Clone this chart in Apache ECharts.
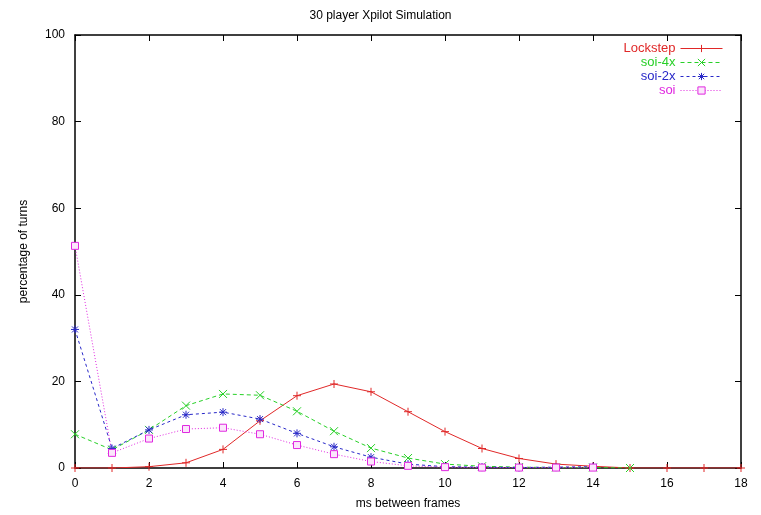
<!DOCTYPE html>
<html>
<head>
<meta charset="utf-8">
<script src="https://cdn.jsdelivr.net/npm/echarts@6/dist/echarts.min.js"></script>
<style>
  html, body { margin: 0; padding: 0; background: #fff; }
  #main { width: 761px; height: 515px; }
</style>
</head>
<body>
<div id="main"></div>
<script>
// ms between frames (x) and percentage of turns per series
var msValues = [0, 1, 2, 3, 4, 5, 6, 7, 8, 9, 10, 11, 12, 13, 14, 15, 16, 17, 18];
var lockstep = [0, 0, 0.3, 1.2, 4.3, 10.9, 16.7, 19.4, 17.6, 13.0, 8.4, 4.5, 2.2, 0.9, 0.4, 0, 0, 0, 0];
var soi4x = [7.8, 4.2, 8.8, 14.4, 17.1, 16.8, 13.1, 8.5, 4.6, 2.3, 0.9, 0.4, 0.2, 0.1, 0.1, 0];
var soi2x = [32.0, 4.5, 8.8, 12.3, 12.9, 11.3, 8.0, 4.9, 2.5, 0.9, 0.3, 0.2, 0.1, 0.2, 0.3];
var soi = [51.3, 3.5, 6.8, 9.0, 9.3, 7.8, 5.3, 3.2, 1.5, 0.5, 0.2, 0.1, 0.1, 0.1, 0.1];

var FONT = 'Liberation Sans';

function pairs(vals) {
    var res = [];
    for (var i = 0; i < vals.length; i++) {
        res.push([msValues[i], vals[i]]);
    }
    return res;
}

// gnuplot style point symbols
var plusSym = 'path://M0,4L8,4M4,0L4,8';
var crossSym = 'path://M0,0L8,8M8,0L0,8';
var starSym = 'path://M0,4L8,4M4,0L4,8M1,1L7,7M7,1L1,7';
var boxSym = 'path://M0,0L8,0L8,8L0,8Z';

function mkSeries(name, vals, color, symbol, dash, fill) {
    return {
        name: name,
        type: 'line',
        data: pairs(vals),
        symbol: symbol,
        symbolSize: symbol === boxSym ? 7 : 8,
        showAllSymbol: true,
        animation: false,
        lineStyle: { color: color, width: 1, type: dash },
        itemStyle: { color: fill || color, borderColor: color, borderWidth: 1 }
    };
}

function legendItem(name, color) {
    return {
        name: name,
        textStyle: { color: color },
        itemStyle: { borderWidth: 1, borderColor: color }
    };
}

var axisLine = { show: true, onZero: false, lineStyle: { color: '#000', width: 1.5 } };
var axisTick = { show: true, inside: true, length: 6, lineStyle: { color: '#000' } };

var chart = echarts.init(document.getElementById('main'));
chart.setOption({
    backgroundColor: '#fff',
    animation: false,
    title: {
        text: '30 player Xpilot Simulation',
        left: 'center',
        top: 5,
        textStyle: { fontFamily: FONT, fontSize: 12, fontWeight: 'normal', color: '#000' }
    },
    legend: {
        orient: 'vertical',
        right: 33,
        top: 37,
        align: 'right',
        itemWidth: 42,
        itemHeight: 9,
        itemGap: 1,
        lineStyle: { width: 1 },
        textStyle: { fontFamily: FONT, fontSize: 13 },
        data: [
            legendItem('Lockstep', '#e02828'),
            legendItem('soi-4x', '#28d028'),
            legendItem('soi-2x', '#2828c8'),
            legendItem('soi', '#e028e0')
        ]
    },
    grid: { left: 75, right: 20, top: 35, bottom: 46 },
    xAxis: [{
        type: 'value',
        min: 0, max: 18, interval: 2,
        name: 'ms between frames',
        nameLocation: 'middle',
        nameGap: 30,
        nameTextStyle: { fontFamily: FONT, fontSize: 12, color: '#000' },
        axisLine: axisLine,
        axisTick: axisTick,
        splitLine: { show: false },
        axisLabel: { fontFamily: FONT, fontSize: 12, color: '#000', margin: 10 }
    }, {
        type: 'value',
        position: 'top',
        min: 0, max: 18, interval: 2,
        axisLine: axisLine,
        axisTick: axisTick,
        splitLine: { show: false },
        axisLabel: { show: false }
    }],
    yAxis: [{
        type: 'value',
        min: 0, max: 100, interval: 20,
        name: 'percentage of turns',
        nameLocation: 'middle',
        nameGap: 45,
        nameTextStyle: { fontFamily: FONT, fontSize: 12, color: '#000' },
        axisLine: axisLine,
        axisTick: axisTick,
        splitLine: { show: false },
        axisLabel: { fontFamily: FONT, fontSize: 12, color: '#000', margin: 10 }
    }, {
        type: 'value',
        position: 'right',
        min: 0, max: 100, interval: 20,
        axisLine: axisLine,
        axisTick: axisTick,
        splitLine: { show: false },
        axisLabel: { show: false }
    }],
    series: [
        mkSeries('Lockstep', lockstep, '#e02828', plusSym, 'solid'),
        mkSeries('soi-4x', soi4x, '#28d028', crossSym, [4, 3]),
        mkSeries('soi-2x', soi2x, '#2828c8', starSym, [3, 3]),
        mkSeries('soi', soi, '#e028e0', boxSym, [1, 2], '#fbe6fb')
    ]
});
</script>
</body>
</html>
